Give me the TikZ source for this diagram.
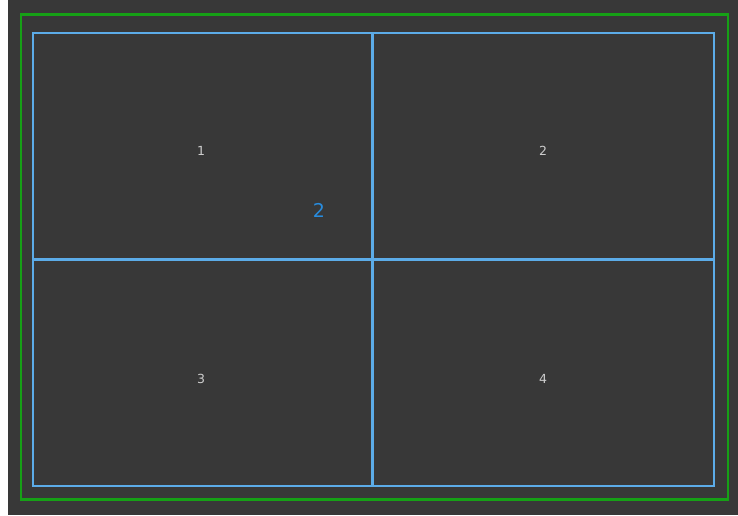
\documentclass[tikz,border=0pt]{standalone}
\usepackage{fontspec}
\setmainfont{DejaVu Sans}
\definecolor{bgdark}{RGB}{56,56,56}
\definecolor{frgreen}{RGB}{22,160,22}
\definecolor{cellblue}{RGB}{92,172,232}
\definecolor{lblblue}{RGB}{40,140,222}
\definecolor{lblgray}{RGB}{205,205,205}
\begin{document}
\begin{tikzpicture}[x=1pt,y=-1pt,
  celllabel/.style={text=lblgray,font=\fontsize{12.5}{14}\selectfont,inner sep=0pt},
  bluelabel/.style={text=lblblue,font=\fontsize{19}{21}\selectfont,inner sep=0pt},
  divider/.style={draw=cellblue,line width=3.3pt},
  cellframe/.style={draw=cellblue,line width=2pt}]
\useasboundingbox (0,0) rectangle (738,515);
\fill[white] (0,0) rectangle (738,515);
\fill[bgdark] (8,0) rectangle (738,515);
\draw[frgreen,line width=2.8pt] (21,14.5) rectangle (728,499.5);
\draw[cellframe] (32.5,32.5) rectangle (713.5,486);
\coordinate (vt) at (372.8,32.5);
\coordinate (vb) at (372.8,486);
\coordinate (hl) at (32.5,259.3);
\coordinate (hr) at (713.5,259.3);
\draw[divider] (vt) -- (vb);
\draw[divider] (hl) -- (hr);
\node[celllabel] (c1) at (201,151) {1};
\node[celllabel] (c2) at (543,151) {2};
\node[celllabel] (c3) at (201,379) {3};
\node[celllabel] (c4) at (543,379) {4};
\node[bluelabel] (b2) at (319,210) {2};
\end{tikzpicture}
\end{document}
